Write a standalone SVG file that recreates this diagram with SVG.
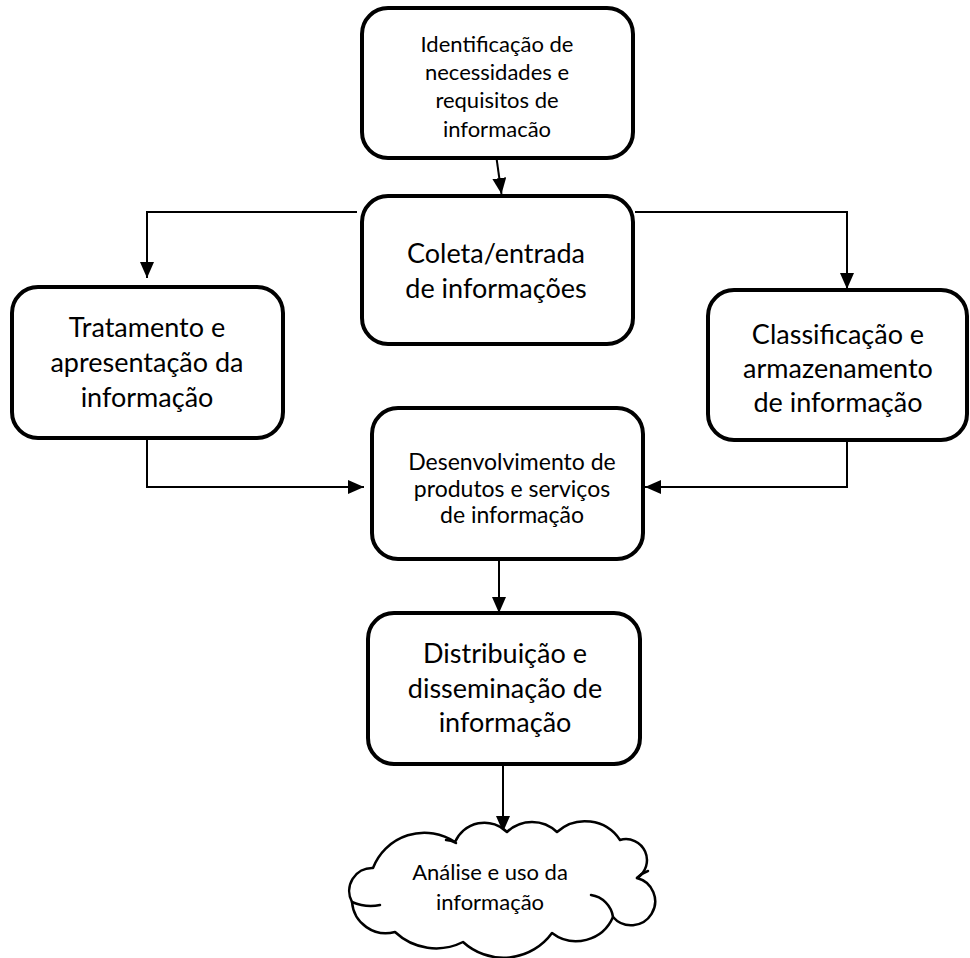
<svg xmlns="http://www.w3.org/2000/svg" width="970" height="958" viewBox="0 0 970 958">
  <style>
    .box { fill: #ffffff; stroke: #000000; stroke-width: 4; }
    .cloud { fill: #ffffff; stroke: #000000; stroke-width: 2.5; stroke-linejoin: round; }
    .curl { fill: none; stroke: #000000; stroke-width: 2.5; stroke-linecap: round; }
    .link { fill: none; stroke: #000000; stroke-width: 2; }
    text { font-family: Lato, "Open Sans", "Liberation Sans", sans-serif; fill: #000000; text-anchor: middle; }
    .big { font-size: 27px; }
    .small { font-size: 22px; }
    .mid { font-size: 23px; }
  </style>
  <defs>
    <marker id="arrow" viewBox="0 0 16 14" refX="16" refY="7" markerWidth="16" markerHeight="14" markerUnits="userSpaceOnUse" orient="auto">
      <path d="M0,0 L16,7 L0,14 Z" fill="#000000"/>
    </marker>
  </defs>
  <rect width="970" height="958" fill="#ffffff"/>

  <g id="connectors">
    <line class="link" x1="496.5" y1="158" x2="501.5" y2="194" marker-end="url(#arrow)"/>
    <polyline class="link" points="357,212 147,212 147,278" marker-end="url(#arrow)"/>
    <polyline class="link" points="635,212 847,212 847,289" marker-end="url(#arrow)"/>
    <polyline class="link" points="147,434 147,487 364,487" marker-end="url(#arrow)"/>
    <polyline class="link" points="847,440 847,487 645,487" marker-end="url(#arrow)"/>
    <line class="link" x1="499" y1="559" x2="499" y2="613" marker-end="url(#arrow)"/>
    <line class="link" x1="503" y1="764" x2="503" y2="832" marker-end="url(#arrow)"/>
  </g>

  <g id="identificacao">
    <rect class="box" x="362" y="8" width="271" height="150" rx="26"/>
    <text class="small" x="497" y="52">Identificação de</text>
    <text class="small" x="497" y="80">necessidades e</text>
    <text class="small" x="497" y="108">requisitos de</text>
    <text class="small" x="497" y="137">informacão</text>
  </g>

  <g id="coleta">
    <rect class="box" x="362" y="196" width="271" height="148" rx="26"/>
    <text class="big" x="496" y="263">Coleta/entrada</text>
    <text class="big" x="496" y="298">de informações</text>
  </g>

  <g id="tratamento">
    <rect class="box" x="12" y="287" width="271" height="151" rx="26"/>
    <text class="big" x="147" y="337">Tratamento e</text>
    <text class="big" x="147" y="372">apresentação da</text>
    <text class="big" x="147" y="407">informação</text>
  </g>

  <g id="classificacao">
    <rect class="box" x="708" y="290" width="259" height="150" rx="26"/>
    <text class="big" x="838" y="344">Classificação e</text>
    <text class="big" x="838" y="378">armazenamento</text>
    <text class="big" x="838" y="412">de informação</text>
  </g>

  <g id="desenvolvimento">
    <rect class="box" x="372" y="408" width="271" height="151" rx="26"/>
    <text class="mid" x="512" y="470">Desenvolvimento de</text>
    <text class="mid" x="512" y="497">produtos e serviços</text>
    <text class="mid" x="512" y="523">de informação</text>
  </g>

  <g id="distribuicao">
    <rect class="box" x="368" y="613" width="272" height="151" rx="26"/>
    <text class="big" x="505" y="663">Distribuição e</text>
    <text class="big" x="505" y="698">disseminação de</text>
    <text class="big" x="505" y="732">informação</text>
  </g>

  <g id="analise">
    <!-- cloud outline: one arc per bump, traced clockwise from the left -->
    <path class="cloud" d="M373,868 A55,55 0 0,1 455,842 A32,32 0 0,1 507,832 A36,36 0 0,1 557,832 A42,42 0 0,1 620,840 A21,21 0 0,1 637,878 A24,24 0 1,1 613,917 A40,40 0 0,1 552,933 A60,60 0 0,1 463,942 A60,60 0 0,1 395,932 A34,34 0 0,1 352,902 A23,23 0 0,1 373,868 Z"/>
    <!-- inner curls where bumps overlap -->
    <path class="curl" d="M637,878 Q642,873 648,871"/>
    <path class="curl" d="M591,895 A26,26 0 0,1 613,917"/>
    <path class="curl" d="M352,902 Q366,908 380,905"/>
    <path class="curl" d="M446,840 Q451,840 456,843"/>
    <text class="small" x="490" y="880">Análise e uso da</text>
    <text class="small" x="490" y="910">informação</text>
  </g>
</svg>
